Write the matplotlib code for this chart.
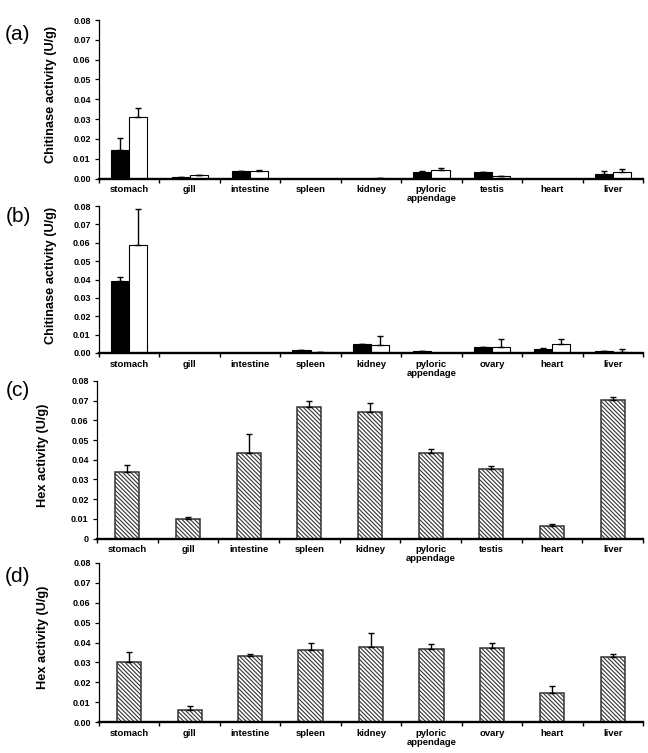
import numpy as np
import matplotlib
matplotlib.use('Agg')
import matplotlib.pyplot as plt

plt.rcParams['font.family'] = ['Liberation Sans', 'DejaVu Sans']
plt.rcParams['hatch.linewidth'] = 0.8

# tissues
tissues_a = ['stomach', 'gill', 'intestine', 'spleen', 'kidney', 'pyloric\nappendage', 'testis', 'heart', 'liver']
tissues_b = ['stomach', 'gill', 'intestine', 'spleen', 'kidney', 'pyloric\nappendage', 'ovary', 'heart', 'liver']

# (a) chitinase, male -- black / white bars, with top of error bar
chit_a_black = [0.0146, 0.0008, 0.0036, 0.0, 0.0, 0.0033, 0.0033, 0.0, 0.0023]
chit_a_black_err = [0.0202, 0.0009, 0.0038, 0.0, 0.0, 0.0037, 0.0035, 0.0, 0.0038]
chit_a_white = [0.0308, 0.0017, 0.0037, 0.0, 0.0004, 0.0044, 0.0015, 0.0, 0.0033]
chit_a_white_err = [0.0357, 0.0017, 0.0043, 0.0, 0.0004, 0.0053, 0.0015, 0.0, 0.0046]

# (b) chitinase, female
chit_b_black = [0.0394, 0.0, 0.0, 0.0016, 0.0050, 0.0009, 0.0030, 0.0023, 0.0012]
chit_b_black_err = [0.0416, 0.0, 0.0, 0.0016, 0.0050, 0.0009, 0.0030, 0.0025, 0.0012]
chit_b_white = [0.0586, 0.0, 0.0, 0.0005, 0.0044, 0.0, 0.0030, 0.0047, 0.0008]
chit_b_white_err = [0.0782, 0.0, 0.0, 0.0005, 0.0090, 0.0, 0.0076, 0.0077, 0.0020]

# (c) hex, male
hex_c = [0.0337, 0.0101, 0.0434, 0.0668, 0.0645, 0.0434, 0.0352, 0.0063, 0.0704]
hex_c_err = [0.0372, 0.0108, 0.0530, 0.0697, 0.0690, 0.0453, 0.0369, 0.0076, 0.0720]

# (d) hex, female
hex_d = [0.0300, 0.0058, 0.0331, 0.0360, 0.0375, 0.0365, 0.0373, 0.0145, 0.0328]
hex_d_err = [0.0350, 0.0078, 0.0344, 0.0397, 0.0450, 0.0390, 0.0400, 0.0180, 0.0343]

W, H = 648, 753
fig = plt.figure(figsize=(W / 100, H / 100), dpi=100)


def make_axes(top, bottom, left=99, right=643):
    return fig.add_axes([left / W, 1 - bottom / H, (right - left) / W, (bottom - top) / H])


def style(ax, labels, ylabel, yfmt, label_x):
    n = len(labels)
    ax.set_xlim(-0.5, n - 0.5)
    ax.set_ylim(0, 0.08)
    ax.spines['top'].set_visible(False)
    ax.spines['right'].set_visible(False)
    ax.spines['left'].set_linewidth(0.9)
    ax.spines['bottom'].set_linewidth(1.7)
    ax.set_xticks(np.arange(n + 1) - 0.5)
    ax.set_xticklabels([''] * (n + 1))
    ax.set_xticks(np.arange(n), minor=True)
    ax.set_xticklabels(labels, minor=True, fontsize=6.8, fontweight='bold', linespacing=1.0)
    ax.tick_params(axis='x', which='major', direction='out', length=3, width=1)
    ax.tick_params(axis='x', which='minor', length=0, pad=5)
    yt = np.arange(0, 0.081, 0.01)
    ax.set_yticks(yt)
    ax.set_yticklabels([yfmt(v) for v in yt], fontsize=6.5, fontweight='bold')
    ax.tick_params(axis='y', direction='out', length=3, width=0.9, pad=3)
    ax.set_ylabel(ylabel, fontsize=9.2, fontweight='bold')
    ax.yaxis.set_label_coords(label_x, 0.53)


def paired(ax, black, black_err, white, white_err):
    x = np.arange(len(black))
    w = 0.3
    b = np.array(black)
    wh = np.array(white)
    ax.bar(x - w / 2, b, w, color='black', edgecolor='black', linewidth=0.8,
           yerr=[np.zeros_like(b), np.array(black_err) - b], capsize=2.5,
           error_kw=dict(elinewidth=1, capthick=1, ecolor='black'))
    ax.bar(x + w / 2, wh, w, color='white', edgecolor='black', linewidth=0.8,
           yerr=[np.zeros_like(wh), np.array(white_err) - wh], capsize=2.5,
           error_kw=dict(elinewidth=1, capthick=1, ecolor='black'))


def hatched(ax, vals, errs):
    x = np.arange(len(vals))
    v = np.array(vals)
    ax.bar(x, v, 0.4, color='white', edgecolor='#333333', hatch='\\\\\\\\\\\\\\\\', linewidth=1.1,
           yerr=[np.zeros_like(v), np.array(errs) - v], capsize=2.5,
           error_kw=dict(elinewidth=1, capthick=1, ecolor='black'))


fmt2 = lambda v: '%.2f' % v
fmt_c = lambda v: '0' if v == 0 else '%.2f' % v

ax_a = make_axes(20, 178.5)
paired(ax_a, chit_a_black, chit_a_black_err, chit_a_white, chit_a_white_err)
style(ax_a, tissues_a, 'Chitinase activity (U/g)', fmt2, -0.077)

ax_b = make_axes(206, 353)
paired(ax_b, chit_b_black, chit_b_black_err, chit_b_white, chit_b_white_err)
style(ax_b, tissues_b, 'Chitinase activity (U/g)', fmt2, -0.077)

ax_c = make_axes(381, 538.5, left=97)
hatched(ax_c, hex_c, hex_c_err)
style(ax_c, tissues_a, 'Hex activity (U/g)', fmt_c, -0.088)

ax_d = make_axes(563, 722)
hatched(ax_d, hex_d, hex_d_err)
style(ax_d, tissues_b, 'Hex activity (U/g)', fmt2, -0.092)

for lab, yc in zip(['(a)', '(b)', '(c)', '(d)'], [35, 217, 390, 577]):
    fig.text(18 / W, 1 - yc / H, lab, fontsize=15, ha='center', va='center')

fig.savefig('out.png', dpi=100)
